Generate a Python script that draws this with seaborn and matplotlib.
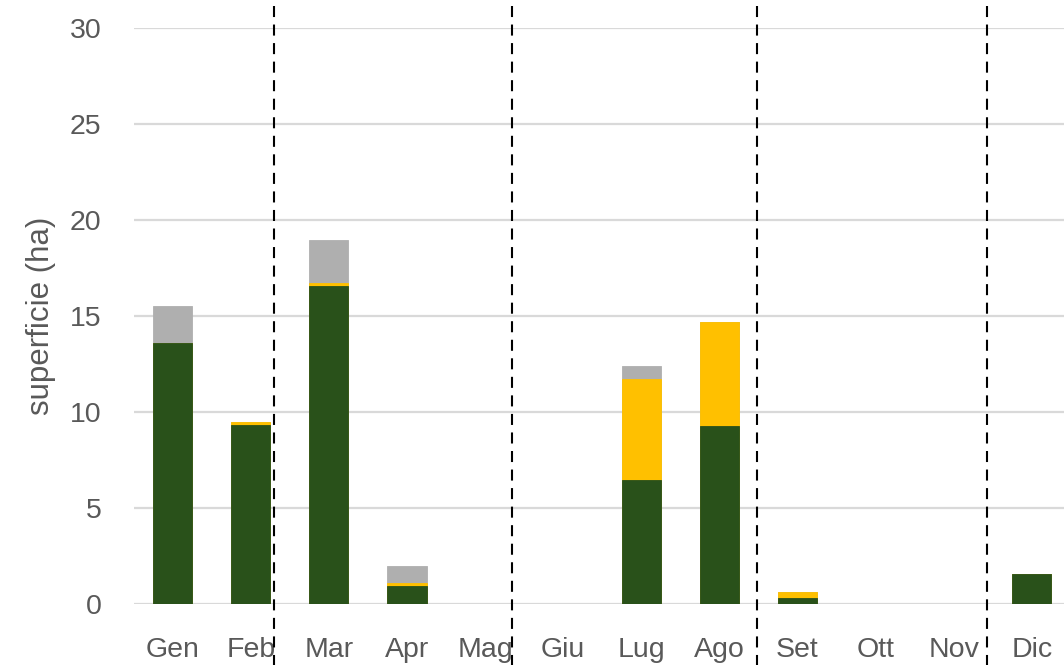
import matplotlib
matplotlib.use("Agg")
import matplotlib.pyplot as plt
import seaborn as sns
import pandas as pd
import numpy as np

# dati mensili (ha)
mesi = ["Gen", "Feb", "Mar", "Apr", "Mag", "Giu", "Lug", "Ago", "Set", "Ott", "Nov", "Dic"]
verde = [13.6, 9.3, 16.55, 0.95, 0, 0, 6.45, 9.25, 0.3, 0, 0, 1.55]
giallo = [0, 0.2, 0.15, 0.15, 0, 0, 5.25, 5.45, 0.3, 0, 0, 0]
grigio = [1.9, 0, 2.25, 0.9, 0, 0, 0.7, 0, 0, 0, 0, 0]
separatori = [1.30, 4.34, 7.48, 10.43]

df = pd.DataFrame({"mese": mesi, "verde": verde, "giallo": giallo, "grigio": grigio})
df["v_g"] = df["verde"] + df["giallo"]
df["totale"] = df["v_g"] + df["grigio"]

sns.set_style("white")
plt.rcParams["font.family"] = ["Liberation Sans", "DejaVu Sans"]

fig = plt.figure(figsize=(10.64, 6.65), dpi=100)
ax = fig.add_axes([0.1256, 0.0917, 0.8808, 0.8662])

# barre impilate: disegno il totale e poi sovrappongo le parti inferiori
for col, colore in [("totale", "#afafaf"), ("v_g", "#ffc000"), ("verde", "#29511a")]:
    sns.barplot(data=df, x="mese", y=col, color=colore, width=0.5,
                edgecolor=colore, linewidth=0.6, saturation=1, ax=ax, zorder=3)

ax.set_xlim(-0.5, 11.5)
ax.set_ylim(0, 30)
ax.set_yticks(np.arange(0, 31, 5))
ax.yaxis.grid(True, color="#d9d9d9", linewidth=1.6, zorder=0)
ax.set_axisbelow(True)
for s in ax.spines.values():
    s.set_visible(False)

for xv in separatori:
    ax.axvline(xv, ymin=-0.12, ymax=1.06, color="black", linewidth=1.5,
               dashes=(5.3, 3.6), clip_on=False, zorder=4)

ax.tick_params(axis="both", length=0, labelsize=20.5, labelcolor="#595959")
ax.tick_params(axis="x", pad=24)
ax.tick_params(axis="y", pad=23)
ax.set_xlabel("")
ax.set_ylabel("superficie (ha)", fontsize=22.5, color="#595959")
ax.yaxis.set_label_coords(-0.083, 0.5)

fig.savefig("out.png", dpi=100)
